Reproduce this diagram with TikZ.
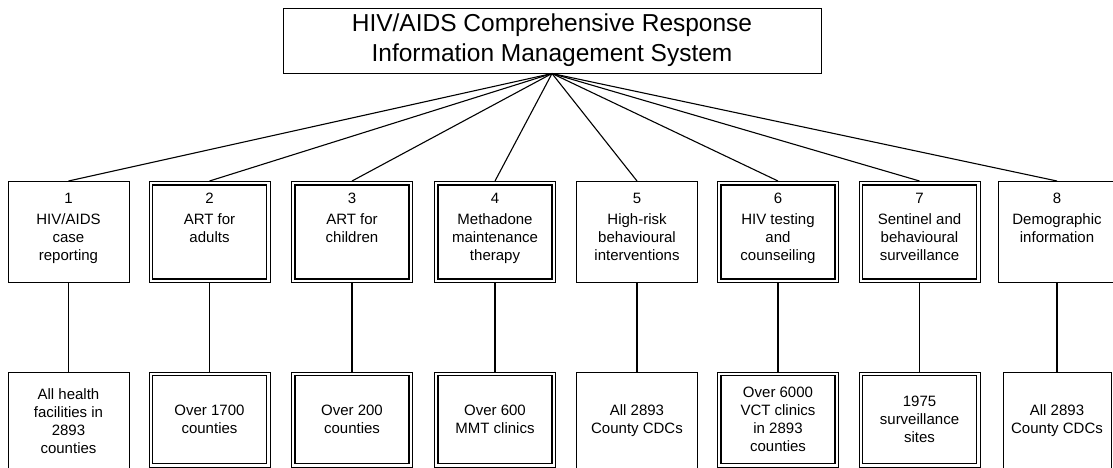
\documentclass[tikz,border=0pt]{standalone}
\usepackage{fontspec}
\setmainfont{Liberation Sans}
\usetikzlibrary{positioning}

\newcommand{\boxfont}{\fontsize{15}{18}\selectfont}
\newcommand{\toptext}[1]{\parbox[c][88pt][t]{118pt}{\centering\boxfont\rule{0pt}{15pt}#1}}

\tikzset{
  box/.style={draw,line width=1pt,fill=white,minimum width=121pt,minimum height=101pt,inner sep=0pt},
  dbl/.style={path picture={\draw[line width=1.8pt]
      ([shift={(3.5pt,3.5pt)}]path picture bounding box.south west) rectangle
      ([shift={(-3.5pt,-3.5pt)}]path picture bounding box.north east);}},
  low/.style={box,minimum height=95pt,align=center,font=\boxfont},
  open/.style={minimum height=98pt},
  link/.style={line width=1.1pt}
}

\begin{document}
\begin{tikzpicture}[x=1pt,y=-1pt]
\useasboundingbox (0,0) rectangle (1113,467);
% Title
\node[draw,line width=1pt,minimum width=538pt,minimum height=65pt,align=center,
  font=\fontsize{24.5}{30}\selectfont] (sys) at (552,40.5)
  {HIV/AIDS Comprehensive Response\\Information Management System};
% Components
\node[box] (c1) at (68.5,232) {\toptext{1\\[3pt]HIV/AIDS\\case\\reporting}};
\node[box,dbl] (c2) at (209.5,232) {\toptext{2\\[3pt]ART for\\adults}};
\node[box,dbl] (c3) at (352,232) {\toptext{3\\[3pt]ART for\\children}};
\node[box,dbl] (c4) at (495,232) {\toptext{4\\[3pt]Methadone\\maintenance\\therapy}};
\node[box] (c5) at (637,232) {\toptext{5\\[3pt]High-risk\\behavioural\\interventions}};
\node[box,dbl] (c6) at (778,232) {\toptext{6\\[3pt]HIV testing\\and\\counseiling}};
\node[box,dbl] (c7) at (919.5,232) {\toptext{7\\[3pt]Sentinel and\\behavioural\\surveillance}};
\node[box,minimum width=108pt] (c8) at (1057,232) {\toptext{8\\[3pt]Demographic\\information}};
% Coverage (single boxes run off the bottom)
\node[low,open] (s1) at (68.5,421) {All health\\facilities in\\2893\\counties};
\node[low,dbl] (s2) at (209.5,419.5) {Over 1700\\counties};
\node[low,dbl] (s3) at (352,419.5) {Over 200\\counties};
\node[low,dbl] (s4) at (495,419.5) {Over 600\\MMT clinics};
\node[low,open] (s5) at (637,421) {All 2893\\County CDCs};
\node[low,dbl] (s6) at (778,419.5) {Over 6000\\VCT clinics\\in 2893\\counties};
\node[low,dbl] (s7) at (919.5,419.5) {1975\\surveillance\\sites};
\node[low,open,minimum width=108pt] (s8) at (1057,421) {All 2893\\County CDCs};
% Links
\draw[link] (sys.south) -- (c1.north);
\draw[link] (sys.south) -- (c2.north);
\draw[link] (sys.south) -- (c3.north);
\draw[link] (sys.south) -- (c4.north);
\draw[link] (sys.south) -- (c5.north);
\draw[link] (sys.south) -- (c6.north);
\draw[link] (sys.south) -- (c7.north);
\draw[link] (sys.south) -- (c8.north);
\draw[link] (c1) -- (s1);
\draw[link] (c2) -- (s2);
\draw[link] (c3) -- (s3);
\draw[link] (c4) -- (s4);
\draw[link] (c5) -- (s5);
\draw[link] (c6) -- (s6);
\draw[link] (c7) -- (s7);
\draw[link] (c8) -- (s8);
\end{tikzpicture}
\end{document}
